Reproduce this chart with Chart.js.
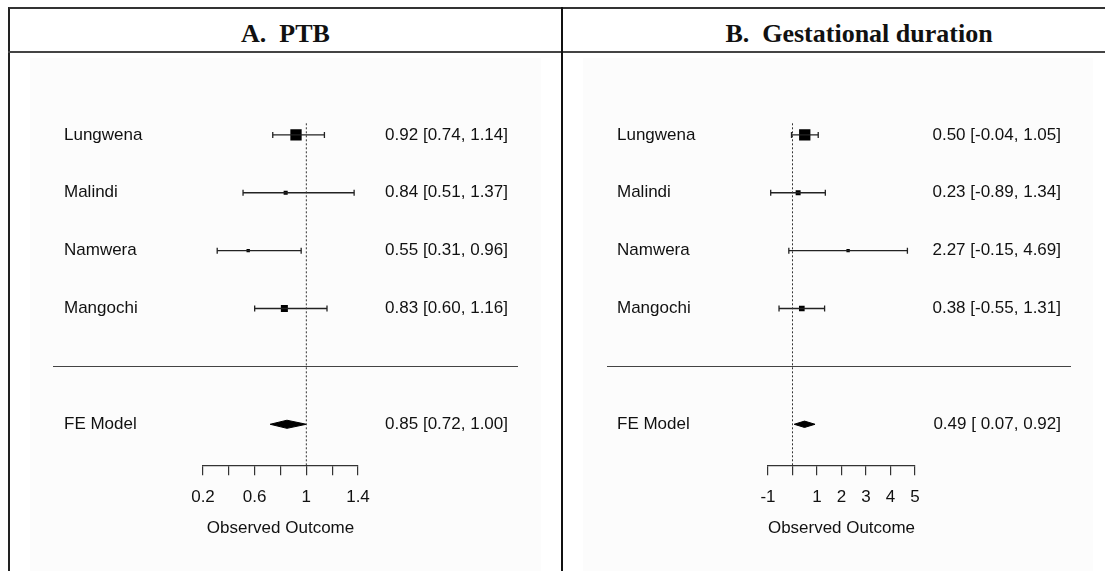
<!DOCTYPE html>
<html>
<head>
<meta charset="utf-8">
<script src="https://cdn.jsdelivr.net/npm/chart.js@4"></script>
<style>
  body { margin: 0; background: #fff; width: 1105px; height: 571px; overflow: hidden; position: relative; }
  .frame { position: absolute; left: 8px; top: 7px; width: 1150px; height: 600px; border-top: 2px solid #333; border-left: 2px solid #222; }
  .hline { position: absolute; left: 8px; top: 51px; width: 1150px; height: 0; border-top: 2px solid #444; }
  .vline { position: absolute; left: 561px; top: 7px; width: 0; height: 600px; border-left: 2px solid #111; }
  .title { position: absolute; top: 19px; font: bold 26px "Liberation Serif", "Times New Roman", serif; color: #111; text-align: center; white-space: pre; }
  .bg { position: absolute; background: #fcfcfc; }
  canvas { position: absolute; }
</style>
</head>
<body>
<div class="frame"></div>
<div class="hline"></div>
<div class="vline"></div>
<div class="title" style="left:10px;width:551px;">A.  PTB</div>
<div class="title" style="left:564px;width:590px;">B.  Gestational duration</div>
<div class="bg" style="left:30px;top:58px;width:511px;height:513px;"></div>
<div class="bg" style="left:583px;top:58px;width:510px;height:513px;"></div>
<div style="position:absolute;left:10px;top:54px;width:551px;height:517px;"><canvas id="ptbChart"></canvas></div>
<div style="position:absolute;left:564px;top:54px;width:541px;height:517px;"><canvas id="gestChart"></canvas></div>
<script>
// studies, top to bottom
const studies = ["Lungwena", "Malindi", "Namwera", "Mangochi"];
const studyRows = [4, 3, 2, 1];

// A. PTB
const ptbEst = [0.92, 0.84, 0.55, 0.83];
const ptbLo = [0.74, 0.51, 0.31, 0.60];
const ptbHi = [1.14, 1.37, 0.96, 1.16];
const ptbWeight = [1.0, 0.36, 0.3, 0.62];
const ptbFE = [0.85, 0.72, 1.00]; // est, lo, hi
const ptbTicks = [0.2, 0.4, 0.6, 0.8, 1.0, 1.2, 1.4];
const ptbTickLabels = ["0.2", "", "0.6", "", "1", "", "1.4"];

// B. Gestational duration
const gestEst = [0.50, 0.23, 2.27, 0.38];
const gestLo = [-0.04, -0.89, -0.15, -0.55];
const gestHi = [1.05, 1.34, 4.69, 1.31];
const gestWeight = [1.0, 0.44, 0.3, 0.5];
const gestFE = [0.49, 0.07, 0.92];
const gestTicks = [-1, 0, 1, 2, 3, 4, 5];
const gestTickLabels = ["-1", "", "1", "2", "3", "4", "5"];

const FE_ROW = -1;
const TEXT_FONT = '17px "Liberation Sans", Arial, Helvetica, sans-serif';
const INK = "#111";

function fmt(v, pad) {
  const s = v.toFixed(2);
  return pad && v >= 0 ? " " + s : s;
}

function ciText(est, lo, hi, pad) {
  return fmt(est, false) + " [" + fmt(lo, pad) + ", " + fmt(hi, false) + "]";
}

// Beschriftungen links/rechts und Trennlinie
const forestText = {
  id: "forestText",
  afterDatasetsDraw(chart, args, opts) {
    const ctx = chart.ctx;
    const y = chart.scales.y;
    ctx.save();
    ctx.font = TEXT_FONT;
    ctx.fillStyle = INK;
    ctx.textBaseline = "middle";
    opts.rows.forEach(function (r) {
      const py = y.getPixelForValue(r.row);
      ctx.textAlign = "left";
      ctx.fillText(r.label, opts.labelX, py);
      ctx.textAlign = "right";
      ctx.fillText(r.text, opts.textX, py);
    });
    const sy = Math.round(y.getPixelForValue(0)) + 0.5;
    ctx.strokeStyle = "#444";
    ctx.lineWidth = 1.2;
    ctx.beginPath();
    ctx.moveTo(opts.lineFrom, sy);
    ctx.lineTo(opts.lineTo, sy);
    ctx.stroke();
    ctx.restore();
  },
};

function makePanel(id, p) {
  const pad = p.lo.concat([p.fe[1]]).some(function (v) { return v < 0; });
  const datasets = [];

  // Referenzlinie
  datasets.push({
    type: "line",
    data: [{ x: p.ref, y: 4.2 }, { x: p.ref, y: p.yMin }],
    borderColor: "#333",
    borderWidth: 1,
    borderDash: [2, 2],
    pointRadius: 0,
  });

  // Konfidenzintervalle
  studies.forEach(function (s, i) {
    datasets.push({
      type: "line",
      data: [{ x: p.lo[i], y: studyRows[i] }, { x: p.hi[i], y: studyRows[i] }],
      borderColor: "#222",
      borderWidth: 1.3,
      pointStyle: "line",
      rotation: 90,
      pointRadius: 3,
      pointBorderWidth: 1.3,
      pointBorderColor: "#222",
    });
  });

  // Quadrate (Gewichte)
  datasets.push({
    type: "scatter",
    data: studies.map(function (s, i) { return { x: p.est[i], y: studyRows[i] }; }),
    pointStyle: "rect",
    pointRadius: p.weight.map(function (w) { return 8 * w; }),
    backgroundColor: "#000",
    borderColor: "#000",
    borderWidth: 0,
  });

  // Raute FE Model
  const h = p.diamondH;
  datasets.push({
    type: "line",
    data: [
      { x: p.fe[1], y: FE_ROW },
      { x: p.fe[0], y: FE_ROW + h },
      { x: p.fe[2], y: FE_ROW },
      { x: p.fe[0], y: FE_ROW - h },
      { x: p.fe[1], y: FE_ROW },
    ],
    borderColor: "#000",
    borderWidth: 1,
    backgroundColor: "#000",
    fill: "shape",
    pointRadius: 0,
    tension: 0,
  });

  const rows = studies.map(function (s, i) {
    return { row: studyRows[i], label: s, text: ciText(p.est[i], p.lo[i], p.hi[i], pad) };
  });
  rows.push({ row: FE_ROW, label: "FE Model", text: ciText(p.fe[0], p.fe[1], p.fe[2], pad) });

  return new Chart(document.getElementById(id), {
    data: { datasets: datasets },
    options: {
      responsive: true,
      maintainAspectRatio: false,
      animation: false,
      events: [],
      layout: { padding: { left: p.padLeft, right: p.padRight, top: 23, bottom: 25 } },
      elements: { line: { clip: false } },
      plugins: {
        legend: { display: false },
        tooltip: { enabled: false },
        forestText: {
          rows: rows,
          labelX: p.labelX,
          textX: p.textX,
          lineFrom: p.lineFrom,
          lineTo: p.lineTo,
        },
      },
      scales: {
        x: {
          type: "linear",
          min: p.ticks[0],
          max: p.ticks[p.ticks.length - 1],
          afterBuildTicks: function (scale) {
            scale.ticks = p.ticks.map(function (v) { return { value: v }; });
          },
          ticks: {
            autoSkip: false,
            maxRotation: 0,
            padding: 12,
            color: INK,
            font: { family: '"Liberation Sans", Arial, sans-serif', size: 17 },
            callback: function (v) {
              const i = p.ticks.findIndex(function (t) { return Math.abs(t - v) < 1e-9; });
              return i >= 0 ? p.tickLabels[i] : "";
            },
          },
          grid: { drawOnChartArea: false, drawTicks: true, tickLength: 10, color: "#333", lineWidth: 1.2 },
          border: { display: true, color: "#333", width: 1.2 },
          title: {
            display: true,
            text: "Observed Outcome",
            color: INK,
            font: { family: '"Liberation Sans", Arial, sans-serif', size: 17 },
            padding: { top: -1, bottom: 7 },
          },
        },
        y: {
          type: "linear",
          display: false,
          min: p.yMin,
          max: 5,
        },
      },
    },
    plugins: [forestText],
  });
}

makePanel("ptbChart", {
  est: ptbEst, lo: ptbLo, hi: ptbHi, weight: ptbWeight, fe: ptbFE,
  ticks: ptbTicks, tickLabels: ptbTickLabels, ref: 1,
  yMin: -1.707, diamondH: 0.07,
  padLeft: 193, padRight: 203,
  labelX: 54, textX: 498, lineFrom: 43, lineTo: 508,
});

makePanel("gestChart", {
  est: gestEst, lo: gestLo, hi: gestHi, weight: gestWeight, fe: gestFE,
  ticks: gestTicks, tickLabels: gestTickLabels, ref: 0,
  yMin: -1.707, diamondH: 0.055,
  padLeft: 204, padRight: 190,
  labelX: 53, textX: 497, lineFrom: 43, lineTo: 507,
});
</script>
</body>
</html>
